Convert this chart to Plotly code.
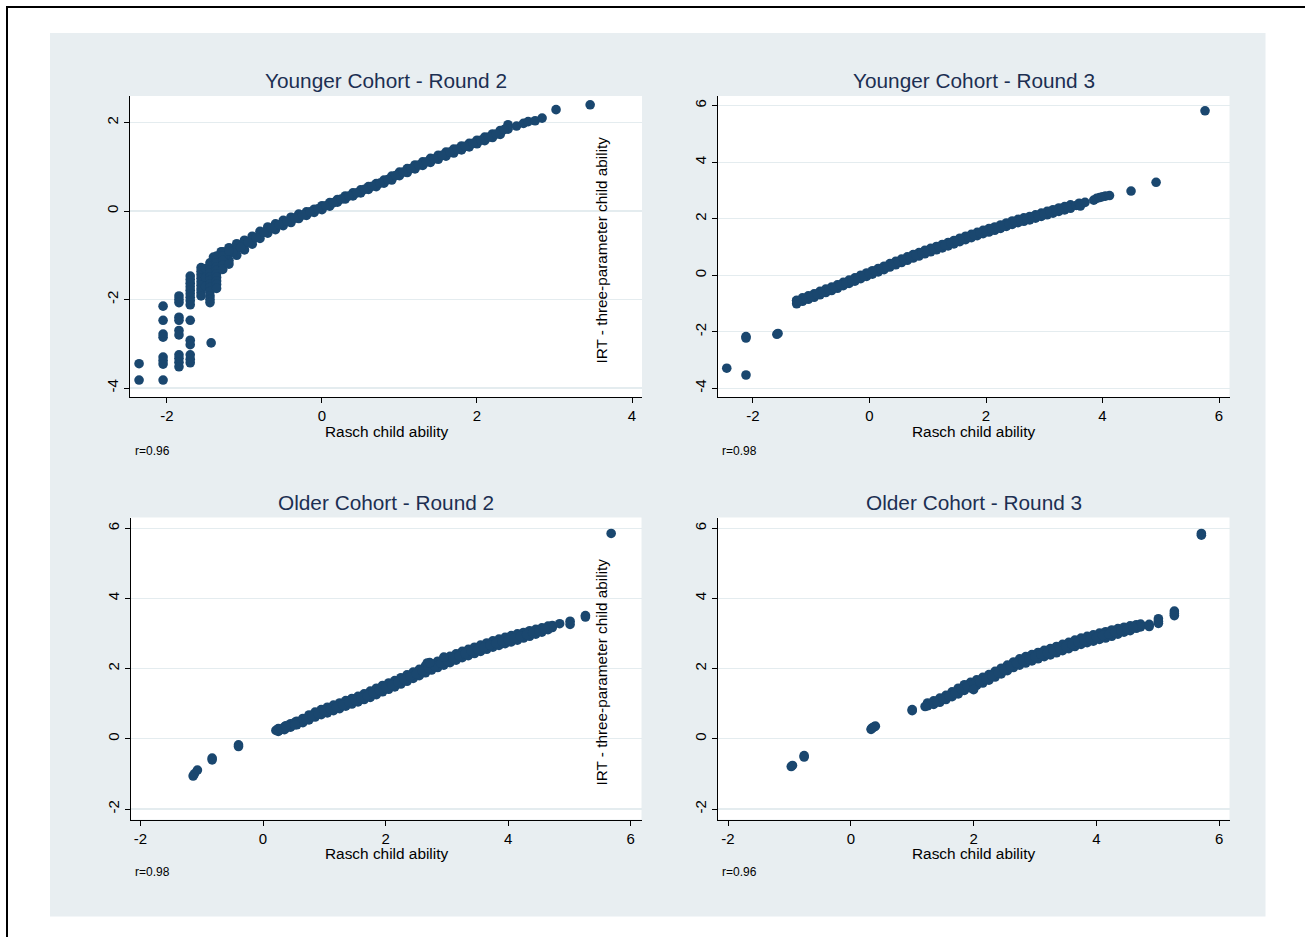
import plotly.graph_objects as go

# ---------------- data ----------------
titles = ["Younger Cohort - Round 2", "Younger Cohort - Round 3",
          "Older Cohort - Round 2", "Older Cohort - Round 3"]
r_notes = ["r=0.96", "r=0.98", "r=0.98", "r=0.96"]
x_title = "Rasch child ability"
y_title = "IRT - three-parameter child ability"

# Younger cohort, round 2
yr2_band_x = [-1.40, -1.30, -1.20, -1.10, -1.00, -0.90, -0.80, -0.70, -0.60, -0.50,
              -0.40, -0.30, -0.20, -0.10, 0.00, 0.10, 0.20, 0.30, 0.40, 0.50,
              0.60, 0.70, 0.80, 0.90, 1.00, 1.10, 1.20, 1.30, 1.40, 1.50,
              1.60, 1.70, 1.80, 1.90, 2.00, 2.10, 2.20, 2.30, 2.40]
yr2_band_hi = [-1.04, -0.92, -0.83, -0.74, -0.66, -0.57, -0.46, -0.36, -0.29, -0.21,
               -0.14, -0.07, -0.02, 0.04, 0.12, 0.19, 0.26, 0.34, 0.41, 0.48,
               0.55, 0.62, 0.70, 0.79, 0.88, 0.96, 1.04, 1.11, 1.19, 1.26,
               1.33, 1.40, 1.47, 1.53, 1.60, 1.67, 1.74, 1.82, 1.95]
yr2_band_mid = [-1.20, -1.07, -0.97, -0.87, -0.77, -0.66, -0.54, -0.43, -0.35, -0.27,
                -0.20, -0.12, -0.06, 0.01, 0.08, 0.15, 0.23, 0.30, 0.38, 0.45,
                0.52, 0.59, 0.66, 0.75, 0.84, 0.92, 1.00, 1.07, 1.15, 1.22,
                1.29, 1.36, 1.43, 1.49, 1.56, 1.63, 1.70, 1.78, 1.90]
yr2_band_lo = [-1.37, -1.22, -1.12, -1.00, -0.88, -0.75, -0.62, -0.50, -0.42, -0.33,
               -0.26, -0.17, -0.10, -0.03, 0.03, 0.11, 0.20, 0.27, 0.34, 0.41,
               0.49, 0.55, 0.63, 0.70, 0.80, 0.87, 0.95, 1.03, 1.10, 1.17,
               1.24, 1.31, 1.38, 1.45, 1.52, 1.59, 1.66, 1.73, 1.85]
yr2_half_x = [-1.35, -1.25, -1.15, -1.05, -0.95, -0.85, -0.75, -0.65, -0.55, -0.45,
              -0.35, -0.25, -0.15, -0.05, 0.05, 0.15, 0.25, 0.35, 0.45, 0.55,
              0.65, 0.75, 0.85, 0.95, 1.05, 1.15, 1.25, 1.35, 1.45, 1.55,
              1.65, 1.75, 1.85, 1.95, 2.05, 2.15, 2.25, 2.35]
yr2_half_y = [-1.13, -1.02, -0.92, -0.82, -0.71, -0.60, -0.48, -0.39, -0.31, -0.23,
              -0.16, -0.09, -0.02, 0.05, 0.12, 0.19, 0.27, 0.34, 0.41, 0.49,
              0.56, 0.63, 0.71, 0.80, 0.88, 0.96, 1.04, 1.11, 1.18, 1.26,
              1.33, 1.40, 1.46, 1.53, 1.60, 1.67, 1.74, 1.84]
yr2_pts_x = [-2.36, -2.36,
             -2.05, -2.05, -2.05, -2.05, -2.05, -2.05, -2.05, -2.05,
             -1.845, -1.845, -1.845, -1.845, -1.845, -1.845, -1.845, -1.845, -1.845, -1.845, -1.845,
             -1.70, -1.70, -1.70, -1.70, -1.70, -1.70, -1.70, -1.70, -1.70, -1.70, -1.70, -1.70, -1.70, -1.70, -1.70,
             -1.56, -1.56, -1.56, -1.56, -1.56, -1.56, -1.56, -1.56, -1.56,
             -1.50, -1.50, -1.50,
             -1.445, -1.445, -1.445, -1.445, -1.445, -1.445, -1.445, -1.445, -1.445, -1.445, -1.445, -1.445, -1.43,
             -1.36, -1.36, -1.36, -1.36, -1.36, -1.36, -1.36, -1.36, -1.36, -1.36,
             -1.28, -1.28, -1.28, -1.28, -1.28,
             -1.20, -1.20,
             2.51, 2.60, 2.66, 2.75, 2.84, 3.02, 3.46]
yr2_pts_y = [-3.45, -3.82,
             -2.15, -2.47, -2.78, -2.85, -3.30, -3.38, -3.46, -3.82,
             -1.92, -2.00, -2.07, -2.40, -2.47, -2.70, -2.80, -3.25, -3.33, -3.42, -3.52,
             -1.47, -1.55, -1.63, -1.71, -1.79, -1.87, -1.95, -2.03, -2.12, -2.47, -2.92, -3.02, -3.25, -3.35, -3.43,
             -1.28, -1.36, -1.44, -1.52, -1.60, -1.68, -1.76, -1.84, -1.92,
             -1.30, -1.50, -1.70,
             -1.17, -1.25, -1.33, -1.41, -1.49, -1.57, -1.65, -1.73, -1.82, -1.92, -2.00, -2.07, -2.98,
             -1.02, -1.10, -1.18, -1.26, -1.34, -1.42, -1.50, -1.58, -1.66, -1.75,
             -0.92, -1.02, -1.12, -1.22, -1.32,
             -0.90, -1.20,
             1.92, 1.98, 2.02, 2.04, 2.10, 2.29, 2.40]

# Younger cohort, round 3
yr3_band_x = [-1.25, -1.15, -1.05, -0.95, -0.85, -0.75, -0.65, -0.55, -0.45, -0.35,
              -0.25, -0.15, -0.05, 0.05, 0.15, 0.25, 0.35, 0.45, 0.55, 0.65,
              0.75, 0.85, 0.95, 1.05, 1.15, 1.25, 1.35, 1.45, 1.55, 1.65,
              1.75, 1.85, 1.95, 2.05, 2.15, 2.25, 2.35, 2.45, 2.55, 2.65,
              2.75, 2.85, 2.95, 3.05, 3.15, 3.25, 3.35, 3.45]
yr3_band_hi = [-0.89, -0.80, -0.73, -0.66, -0.57, -0.49, -0.42, -0.34, -0.25, -0.17,
               -0.09, 0.00, 0.08, 0.16, 0.24, 0.32, 0.41, 0.49, 0.57, 0.65,
               0.73, 0.80, 0.88, 0.95, 1.02, 1.09, 1.16, 1.23, 1.31, 1.38,
               1.45, 1.52, 1.59, 1.65, 1.71, 1.78, 1.85, 1.92, 1.98, 2.03,
               2.08, 2.14, 2.20, 2.26, 2.32, 2.38, 2.43, 2.49]
yr3_band_lo = [-1.01, -0.92, -0.85, -0.78, -0.69, -0.61, -0.54, -0.46, -0.37, -0.29,
               -0.21, -0.12, -0.04, 0.04, 0.12, 0.20, 0.29, 0.37, 0.45, 0.53,
               0.61, 0.68, 0.76, 0.83, 0.90, 0.97, 1.04, 1.11, 1.19, 1.26,
               1.33, 1.40, 1.47, 1.53, 1.59, 1.66, 1.73, 1.80, 1.86, 1.91,
               1.96, 2.02, 2.08, 2.14, 2.20, 2.26, 2.31, 2.37]
yr3_half_x = [-1.20, -1.10, -1.00, -0.90, -0.80, -0.70, -0.60, -0.50, -0.40, -0.30,
              -0.20, -0.10, 0.00, 0.10, 0.20, 0.30, 0.40, 0.50, 0.60, 0.70,
              0.80, 0.90, 1.00, 1.10, 1.20, 1.30, 1.40, 1.50, 1.60, 1.70,
              1.80, 1.90, 2.00, 2.10, 2.20, 2.30, 2.40, 2.50, 2.60, 2.70,
              2.80, 2.90, 3.00, 3.10, 3.20, 3.30, 3.40]
yr3_half_y = [-0.90, -0.82, -0.75, -0.67, -0.59, -0.51, -0.44, -0.35, -0.27, -0.19,
              -0.10, -0.02, 0.06, 0.14, 0.22, 0.30, 0.39, 0.47, 0.55, 0.63,
              0.70, 0.78, 0.85, 0.92, 0.99, 1.06, 1.13, 1.21, 1.28, 1.35,
              1.42, 1.49, 1.56, 1.62, 1.68, 1.75, 1.82, 1.89, 1.94, 2.00,
              2.05, 2.11, 2.17, 2.23, 2.29, 2.34, 2.40]
yr3_pts_x = [-2.45, -2.12, -2.12, -2.12, -1.59, -1.57, -1.25,
             3.55, 3.60, 3.62, 3.70, 3.85, 3.90, 3.95, 4.00, 4.05, 4.12,
             4.49, 4.92, 5.76]
yr3_pts_y = [-3.29, -2.17, -2.22, -3.53, -2.09, -2.06, -0.90,
             2.47, 2.55, 2.45, 2.58, 2.66, 2.72, 2.75, 2.78, 2.80, 2.82,
             2.98, 3.29, 5.82]

# Older cohort, round 2
or2_band_x = [0.25, 0.35, 0.45, 0.55, 0.65, 0.75, 0.85, 0.95, 1.05, 1.15,
              1.25, 1.35, 1.45, 1.55, 1.65, 1.75, 1.85, 1.95, 2.05, 2.15,
              2.25, 2.35, 2.45, 2.55, 2.65, 2.75, 2.85, 2.95, 3.05, 3.15,
              3.25, 3.35, 3.45, 3.55, 3.65, 3.75, 3.85, 3.95, 4.05, 4.15,
              4.25, 4.35, 4.45, 4.55, 4.65, 4.72]
or2_band_hi = [0.29, 0.34, 0.43, 0.50, 0.58, 0.68, 0.76, 0.83, 0.90, 0.96,
               1.02, 1.09, 1.15, 1.21, 1.28, 1.36, 1.44, 1.52, 1.59, 1.66,
               1.74, 1.82, 1.90, 1.98, 2.08, 2.14, 2.21, 2.28, 2.35, 2.42,
               2.49, 2.55, 2.61, 2.67, 2.73, 2.79, 2.84, 2.89, 2.94, 2.99,
               3.03, 3.08, 3.12, 3.16, 3.21, 3.23]
or2_band_lo = [0.21, 0.26, 0.33, 0.40, 0.46, 0.54, 0.62, 0.69, 0.74, 0.80,
               0.86, 0.93, 0.99, 1.05, 1.12, 1.18, 1.26, 1.34, 1.41, 1.48,
               1.56, 1.64, 1.72, 1.80, 1.88, 1.96, 2.03, 2.10, 2.17, 2.24,
               2.31, 2.37, 2.43, 2.49, 2.55, 2.61, 2.66, 2.71, 2.76, 2.81,
               2.87, 2.92, 2.98, 3.04, 3.11, 3.17]
or2_half_x = [0.30, 0.40, 0.50, 0.60, 0.70, 0.80, 0.90, 1.00, 1.10, 1.20,
              1.30, 1.40, 1.50, 1.60, 1.70, 1.80, 1.90, 2.00, 2.10, 2.20,
              2.30, 2.40, 2.50, 2.60, 2.70, 2.80, 2.90, 3.00, 3.10, 3.20,
              3.30, 3.40, 3.50, 3.60, 3.70, 3.80, 3.90, 4.00, 4.10, 4.20,
              4.30, 4.40, 4.50, 4.60]
or2_half_y = [0.27, 0.34, 0.41, 0.48, 0.56, 0.65, 0.72, 0.79, 0.85, 0.91,
              0.97, 1.04, 1.10, 1.16, 1.23, 1.31, 1.39, 1.46, 1.53, 1.61,
              1.69, 1.77, 1.85, 1.93, 2.01, 2.08, 2.15, 2.22, 2.29, 2.36,
              2.43, 2.49, 2.55, 2.61, 2.67, 2.72, 2.77, 2.82, 2.87, 2.92,
              2.97, 3.02, 3.07, 3.13]
or2_pts_x = [-1.14, -1.12, -1.07, -0.83, -0.83, -0.40, -0.40,
             0.21, 0.30, 0.37, 0.37, 0.52, 0.52, 2.68, 2.72, 2.95,
             4.84, 5.01, 5.01, 5.26, 5.26, 5.68]
or2_pts_y = [-1.06, -1.00, -0.89, -0.55, -0.60, -0.17, -0.22,
             0.24, 0.27, 0.30, 0.37, 0.47, 0.40, 2.16, 2.17, 2.33,
             3.28, 3.35, 3.26, 3.51, 3.47, 5.85]

# Older cohort, round 3
or3_band_x = [1.25, 1.35, 1.45, 1.55, 1.65, 1.75, 1.85, 1.95, 2.05, 2.15,
              2.25, 2.35, 2.45, 2.55, 2.65, 2.75, 2.85, 2.95, 3.05, 3.15,
              3.25, 3.35, 3.45, 3.55, 3.65, 3.75, 3.85, 3.95, 4.05, 4.15,
              4.25, 4.35, 4.45, 4.55, 4.65, 4.72]
or3_band_hi = [1.02, 1.08, 1.16, 1.24, 1.34, 1.44, 1.54, 1.61, 1.68, 1.75,
               1.83, 1.92, 2.01, 2.10, 2.19, 2.28, 2.34, 2.40, 2.46, 2.52,
               2.57, 2.63, 2.69, 2.75, 2.81, 2.87, 2.92, 2.96, 3.01, 3.05,
               3.10, 3.14, 3.18, 3.22, 3.25, 3.27]
or3_band_lo = [0.94, 0.98, 1.04, 1.12, 1.20, 1.28, 1.38, 1.45, 1.52, 1.59,
               1.67, 1.76, 1.85, 1.94, 2.03, 2.10, 2.16, 2.22, 2.28, 2.34,
               2.39, 2.45, 2.51, 2.57, 2.63, 2.69, 2.74, 2.78, 2.83, 2.87,
               2.92, 2.98, 3.04, 3.08, 3.15, 3.19]
or3_half_x = [1.30, 1.40, 1.50, 1.60, 1.70, 1.80, 1.90, 2.00, 2.10, 2.20,
              2.30, 2.40, 2.50, 2.60, 2.70, 2.80, 2.90, 3.00, 3.10, 3.20,
              3.30, 3.40, 3.50, 3.60, 3.70, 3.80, 3.90, 4.00, 4.10, 4.20,
              4.30, 4.40, 4.50, 4.60]
or3_half_y = [1.00, 1.06, 1.14, 1.22, 1.31, 1.41, 1.50, 1.56, 1.63, 1.71,
              1.79, 1.88, 1.97, 2.06, 2.15, 2.22, 2.28, 2.34, 2.40, 2.45,
              2.51, 2.57, 2.63, 2.69, 2.75, 2.80, 2.85, 2.89, 2.94, 2.98,
              3.03, 3.08, 3.13, 3.17]
or3_pts_x = [-0.97, -0.95, -0.76, -0.76, 0.33, 0.34, 0.36, 0.38, 0.40,
             1.00, 1.00, 1.21, 2.00, 4.86, 4.86, 5.01, 5.01, 5.01,
             5.27, 5.27, 5.27, 5.71, 5.71]
or3_pts_y = [-0.79, -0.76, -0.52, -0.48, 0.27, 0.30, 0.32, 0.34, 0.36,
             0.80, 0.83, 0.92, 1.40, 3.26, 3.20, 3.42, 3.35, 3.29,
             3.64, 3.57, 3.51, 5.85, 5.80]

# axis ticks
x_ticks = [[-2, 0, 2, 4], [-2, 0, 2, 4, 6], [-2, 0, 2, 4, 6], [-2, 0, 2, 4, 6]]
y_ticks = [[-4, -2, 0, 2], [-4, -2, 0, 2, 4, 6], [-2, 0, 2, 4, 6], [-2, 0, 2, 4, 6]]

# ---------------- layout helpers ----------------
W, H = 1305, 937
FONT = "Liberation Sans, Arial, Helvetica, sans-serif"
NAVY = "#1a476f"
BG = "#e8eef1"
GRID = "#e4ecef"


def px(x):
    return x / W


def py(y):
    return 1 - y / H


# plot-area pixel boxes (left, right, top, bottom) and axis ranges
boxes = [(130, 642, 96, 397), (717.5, 1229.5, 96, 397),
         (130.5, 641.5, 517.5, 819.5), (717.5, 1229.5, 517.5, 819.5)]
x_ranges = [[-2.477, 4.129], [-2.609, 6.180], [-2.162, 6.175], [-2.171, 6.168]]
y_ranges = [[-4.203, 2.599], [-4.308, 6.343], [-2.299, 6.305], [-2.299, 6.305]]

panels = [
    (yr2_band_x, [yr2_band_hi, yr2_band_mid, yr2_band_lo], yr2_half_x, yr2_half_y, yr2_pts_x, yr2_pts_y),
    (yr3_band_x, [yr3_band_hi, yr3_band_lo], yr3_half_x, yr3_half_y, yr3_pts_x, yr3_pts_y),
    (or2_band_x, [or2_band_hi, or2_band_lo], or2_half_x, or2_half_y, or2_pts_x, or2_pts_y),
    (or3_band_x, [or3_band_hi, or3_band_lo], or3_half_x, or3_half_y, or3_pts_x, or3_pts_y),
]

fig = go.Figure()

for i, (bx, rows, hx, hy, ox, oy) in enumerate(panels):
    xs, ys = [], []
    for r in rows:
        xs += list(bx)
        ys += list(r)
    xs += list(hx)
    ys += list(hy)
    xs += list(ox)
    ys += list(oy)
    suf = "" if i == 0 else str(i + 1)
    fig.add_trace(go.Scatter(
        x=xs, y=ys, mode="markers", xaxis="x" + suf, yaxis="y" + suf,
        marker=dict(size=9.6, color=NAVY, line=dict(width=0)),
        hoverinfo="skip", showlegend=False))

layout = dict(
    width=W, height=H,
    margin=dict(l=0, r=0, t=0, b=0, pad=0),
    paper_bgcolor="white", plot_bgcolor="rgba(0,0,0,0)",
    font=dict(family=FONT, color="black"),
    showlegend=False,
)

for i in range(4):
    l, r, t, b = boxes[i]
    suf = "" if i == 0 else str(i + 1)
    layout["xaxis" + suf] = dict(
        domain=[px(l), px(r)], anchor="y" + suf, range=x_ranges[i],
        tickvals=x_ticks[i], ticktext=[str(v) for v in x_ticks[i]],
        showline=True, linecolor="black", linewidth=1,
        ticks="outside", ticklen=5, tickcolor="black", tickwidth=1,
        showgrid=False, zeroline=False, automargin=False,
        tickfont=dict(size=15, family=FONT, color="black"))
    layout["yaxis" + suf] = dict(
        domain=[py(b), py(t)], anchor="x" + suf, range=y_ranges[i],
        tickvals=y_ticks[i], ticktext=[str(v) for v in y_ticks[i]],
        showline=True, linecolor="black", linewidth=1,
        ticks="outside", ticklen=5, tickcolor="black", tickwidth=1,
        showgrid=True, gridcolor=GRID, gridwidth=1.2,
        zeroline=False, automargin=False, tickangle=-90,
        tickfont=dict(size=15, family=FONT, color="black"))

fig.update_layout(**layout)

# backgrounds and outer frame
shapes = [
    dict(type="rect", xref="paper", yref="paper", x0=px(50), x1=px(1265.5),
         y0=py(916.5), y1=py(33), fillcolor=BG, line=dict(width=0), layer="below"),
]
for (l, r, t, b) in boxes:
    shapes.append(dict(type="rect", xref="paper", yref="paper", x0=px(l), x1=px(r),
                       y0=py(b), y1=py(t), fillcolor="white", line=dict(width=0),
                       layer="below"))
shapes.append(dict(type="rect", xref="paper", yref="paper", x0=px(7), x1=px(1320),
                   y0=py(960), y1=py(7), fillcolor="rgba(0,0,0,0)",
                   line=dict(color="black", width=2), layer="above"))
fig.update_layout(shapes=shapes)

# text
ann = []
title_pos = [(386, 81), (973.5, 81), (386, 503), (973.5, 503)]
xt_pos = [(386, 431), (973.5, 431), (386, 853), (973.5, 853)]
note_pos = [(133, 451), (720, 451), (133, 872), (720, 872)]
for i in range(4):
    ann.append(dict(text=titles[i], x=px(title_pos[i][0]), y=py(title_pos[i][1]),
                    xref="paper", yref="paper", xanchor="center", yanchor="middle",
                    showarrow=False, font=dict(size=20.8, color="#1c2f52", family=FONT)))
    ann.append(dict(text=x_title, x=px(xt_pos[i][0]), y=py(xt_pos[i][1]),
                    xref="paper", yref="paper", xanchor="center", yanchor="middle",
                    showarrow=False, font=dict(size=15.4, color="black", family=FONT)))
    ann.append(dict(text=r_notes[i], x=px(note_pos[i][0]), y=py(note_pos[i][1]),
                    xref="paper", yref="paper", xanchor="left", yanchor="middle",
                    showarrow=False, font=dict(size=12, color="black", family=FONT)))
for (cx, cy) in [(601, 250.5), (601, 672.5)]:
    ann.append(dict(text=y_title, x=px(cx), y=py(cy), xref="paper", yref="paper",
                    xanchor="center", yanchor="middle", textangle=-90,
                    showarrow=False, font=dict(size=15.3, color="black", family=FONT)))
fig.update_layout(annotations=ann)

fig.write_html("out.html",
               config={"displayModeBar": False, "staticPlot": True},
               post_script="document.body.style.margin='0';"
                           "document.body.style.padding='0';")
